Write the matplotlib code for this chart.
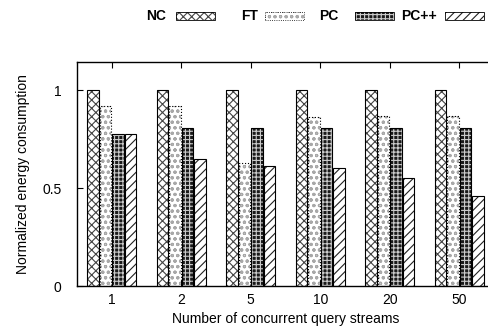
import matplotlib.pyplot as plt
import numpy as np
from matplotlib.patches import Rectangle

plt.rcParams["font.family"] = ["Liberation Sans", "DejaVu Sans"]
plt.rcParams["hatch.linewidth"] = 0.8

streams = ["1", "2", "5", "10", "20", "50"]
nc = [1.0, 1.0, 1.0, 1.0, 1.0, 1.0]
ft = [0.92, 0.92, 0.63, 0.86, 0.87, 0.87]
pc = [0.775, 0.805, 0.805, 0.805, 0.805, 0.805]
pcpp = [0.775, 0.65, 0.61, 0.60, 0.55, 0.46]

series = [
    ("NC", nc, dict(fc="white", hc="#444444", hatch="xxxx", ls="-")),
    ("FT", ft, dict(fc="white", hc="#a8a8a8", hatch="ooo", ls=":")),
    ("PC", pc, dict(fc="#1a1a1a", hc="#cccccc", hatch="++++", ls="-")),
    ("PC++", pcpp, dict(fc="white", hc="#222222", hatch="////", ls="-")),
]

W, H = 488, 332
fig = plt.figure(figsize=(W / 100, H / 100), dpi=100)
ax = fig.add_axes([77 / W, 46 / H, 417 / W, 224 / H])

x = np.arange(len(streams))
w = 0.165
step = 0.18
for i, (name, vals, st) in enumerate(series):
    pos = x + (i - 1.5) * step
    ax.bar(pos, vals, w, color=st["fc"], edgecolor=st["hc"], hatch=st["hatch"],
           linewidth=0, zorder=2)
    ax.bar(pos, vals, w, fill=False, edgecolor="black", linewidth=0.8,
           linestyle=st["ls"], zorder=3)

ax.set_xlim(-0.5, 5.5)
ax.set_ylim(0, 1.143)
ax.set_xticks(x)
ax.set_xticklabels(streams)
ax.set_yticks([0, 0.5, 1])
ax.set_yticklabels(["0", "0.5", "1"])
ax.tick_params(direction="in", top=True, right=True, length=4, labelsize=10)
ax.tick_params(axis="x", pad=5)
ax.tick_params(axis="y", pad=11)
for s in ax.spines.values():
    s.set_linewidth(1.0)

ax.set_xlabel("Number of concurrent query streams", fontsize=10, labelpad=4)
ax.set_ylabel("Normalized energy consumption", fontsize=10, labelpad=9)

# legend in one row above the plot: label first, then sample box
legend_pos = [(166, 176), (258, 265), (338, 355), (437, 445)]
for (name, vals, st), (tx, px) in zip(series, legend_pos):
    fig.text(tx / W, 1 - 16 / H, name, ha="right", va="center",
             fontsize=10, fontweight="bold")
    fig.add_artist(Rectangle((px / W, 1 - 20 / H), 39 / W, 8 / H,
                             transform=fig.transFigure, facecolor=st["fc"],
                             edgecolor=st["hc"], hatch=st["hatch"], linewidth=0))
    fig.add_artist(Rectangle((px / W, 1 - 20 / H), 39 / W, 8 / H,
                             transform=fig.transFigure, fill=False,
                             edgecolor="black", linewidth=0.6, linestyle=st["ls"]))

fig.savefig("out.png", dpi=100)
